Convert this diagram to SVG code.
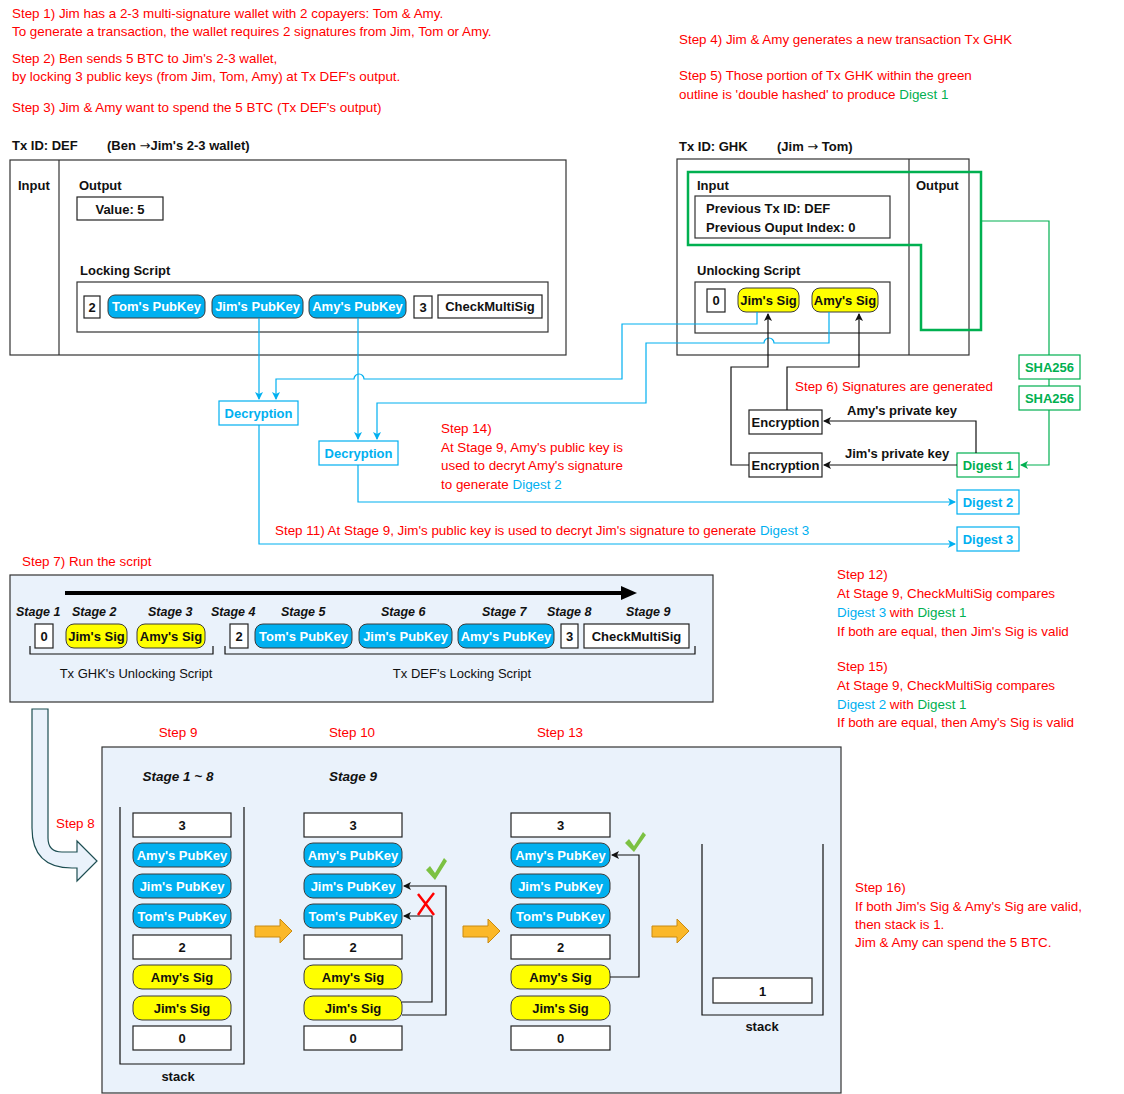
<svg xmlns="http://www.w3.org/2000/svg" width="1124" height="1094" viewBox="0 0 1124 1094">
<style>
text{font-family:"Liberation Sans",Arial,sans-serif;font-size:13px}
.r{fill:#FF0000;font-size:13.4px}
.b{fill:#00B0F0}
.g{fill:#00B050}
.k{fill:#111;font-weight:bold}
.bi{fill:#111;font-weight:bold;font-style:italic;font-size:12.5px}
.bi2{fill:#111;font-weight:bold;font-style:italic;font-size:13.5px}
.ar{font-family:"DejaVu Sans",sans-serif;font-weight:normal}
.box{fill:#fff;stroke:#222;stroke-width:1.2}
.frame{fill:none;stroke:#333;stroke-width:1.2}
.pb{fill:#00B0F0;stroke:#3a3a3a;stroke-width:1}
.py{fill:#FFFF00;stroke:#3a3a3a;stroke-width:1}
.pt{fill:#fff;font-weight:bold;text-anchor:middle}
.yt{fill:#111;font-weight:bold;text-anchor:middle}
.ct{fill:#111;font-weight:bold;text-anchor:middle}
.lt{fill:#111;text-anchor:middle}
.bbox{fill:#fff;stroke:#00B0F0;stroke-width:1.2}
.gbox{fill:#fff;stroke:#00B050;stroke-width:1.2}
.bl{fill:none;stroke:#00B0F0;stroke-width:1.2}
.gl{fill:none;stroke:#00B050;stroke-width:1.2}
.kl{fill:none;stroke:#111;stroke-width:1.2}
.panel{fill:#EAF2FB;stroke:#333;stroke-width:1.2}
.orange{fill:#FBB829;stroke:#C98A10;stroke-width:1}
.check{fill:#7CC142}
</style>
<defs>
<marker id="ak" markerWidth="8" markerHeight="8" refX="7" refY="4" orient="auto" markerUnits="userSpaceOnUse"><path d="M0,0 L8,4 L0,8 L2,4 Z" fill="#111"/></marker>
<marker id="ab" markerWidth="8" markerHeight="8" refX="7" refY="4" orient="auto" markerUnits="userSpaceOnUse"><path d="M0,0 L8,4 L0,8 L2,4 Z" fill="#00B0F0"/></marker>
<marker id="ag" markerWidth="8" markerHeight="8" refX="7" refY="4" orient="auto" markerUnits="userSpaceOnUse"><path d="M0,0 L8,4 L0,8 L2,4 Z" fill="#00B050"/></marker>
</defs>

<g id="notes">
<text class="r" x="12" y="18">Step 1) Jim has a 2-3 multi-signature wallet with 2 copayers: Tom &amp; Amy.</text>
<text class="r" x="12" y="36">To generate a transaction, the wallet requires 2 signatures from Jim, Tom or Amy.</text>
<text class="r" x="12" y="63">Step 2) Ben sends 5 BTC to Jim's 2-3 wallet,</text>
<text class="r" x="12" y="81">by locking 3 public keys (from Jim, Tom, Amy) at Tx DEF's output.</text>
<text class="r" x="12" y="112">Step 3) Jim &amp; Amy want to spend the 5 BTC (Tx DEF's output)</text>
<text class="r" x="679" y="44">Step 4) Jim &amp; Amy generates a new transaction Tx GHK</text>
<text class="r" x="679" y="80">Step 5) Those portion of Tx GHK within the green</text>
<text class="r" x="679" y="99">outline is 'double hashed' to produce <tspan class="g">Digest 1</tspan></text>
<text class="r" x="795" y="391">Step 6) Signatures are generated</text>
<text class="r" x="441" y="433">Step 14)</text>
<text class="r" x="441" y="452">At Stage 9, Amy's public key is</text>
<text class="r" x="441" y="470">used to decryt Amy's signature</text>
<text class="r" x="441" y="489">to generate <tspan class="b">Digest 2</tspan></text>
<text class="r" x="275" y="535">Step 11) At Stage 9, Jim's public key is used to decryt Jim's signature to generate <tspan class="b">Digest 3</tspan></text>
<text class="r" x="22" y="566">Step 7) Run the script</text>
<text class="r" x="837" y="579">Step 12)</text>
<text class="r" x="837" y="598">At Stage 9, CheckMultiSig compares</text>
<text class="r" x="837" y="617"><tspan class="b">Digest 3</tspan> with <tspan class="g">Digest 1</tspan></text>
<text class="r" x="837" y="636">If both are equal, then Jim's Sig is valid</text>
<text class="r" x="837" y="671">Step 15)</text>
<text class="r" x="837" y="690">At Stage 9, CheckMultiSig compares</text>
<text class="r" x="837" y="709"><tspan class="b">Digest 2</tspan> with <tspan class="g">Digest 1</tspan></text>
<text class="r" x="837" y="727">If both are equal, then Amy's Sig is valid</text>
<text class="r" x="56" y="828">Step 8</text>
<text class="r" x="178" y="737" text-anchor="middle">Step 9</text>
<text class="r" x="352" y="737" text-anchor="middle">Step 10</text>
<text class="r" x="560" y="737" text-anchor="middle">Step 13</text>
<text class="r" x="855" y="892">Step 16)</text>
<text class="r" x="855" y="911">If both Jim's Sig &amp; Amy's Sig are valid,</text>
<text class="r" x="855" y="929">then stack is 1.</text>
<text class="r" x="855" y="947">Jim &amp; Amy can spend the 5 BTC.</text>
</g>

<g id="txDEF">
<text class="k" x="12" y="150">Tx ID: DEF</text>
<text class="k" x="107" y="150">(Ben <tspan class="ar">→</tspan>Jim's 2-3 wallet)</text>
<rect class="frame" x="10" y="160" width="556" height="195"/>
<line class="frame" x1="59" y1="160" x2="59" y2="355"/>
<text class="k" x="18" y="190">Input</text>
<text class="k" x="79" y="190">Output</text>
<rect class="box" x="77" y="197" width="86" height="23"/>
<text class="ct" x="120" y="214">Value: 5</text>
<text class="k" x="80" y="275">Locking Script</text>
<rect class="frame" x="77" y="282" width="471" height="50"/>
<rect class="box" x="84" y="296" width="16" height="22"/>
<text class="ct" x="92" y="312">2</text>
<rect class="pb" x="108" y="295" width="97" height="23" rx="7"/>
<text class="pt" x="156.5" y="311">Tom's PubKey</text>
<rect class="pb" x="212" y="295" width="91" height="23" rx="7"/>
<text class="pt" x="257.5" y="311">Jim's PubKey</text>
<rect class="pb" x="309" y="295" width="97" height="23" rx="7"/>
<text class="pt" x="357.5" y="311">Amy's PubKey</text>
<rect class="box" x="414" y="296" width="18" height="22"/>
<text class="ct" x="423" y="312">3</text>
<rect class="box" x="438" y="295" width="104" height="23"/>
<text class="ct" x="490" y="311">CheckMultiSig</text>
</g>

<g id="txGHK">
<text class="k" x="679" y="151">Tx ID: GHK</text>
<text class="k" x="777" y="151">(Jim <tspan class="ar">→</tspan> Tom)</text>
<rect class="frame" x="677" y="159" width="292" height="196"/>
<line class="frame" x1="909" y1="159" x2="909" y2="355"/>
<text class="k" x="697" y="190">Input</text>
<text class="k" x="916" y="190">Output</text>
<rect class="frame" x="695" y="196" width="195" height="42"/>
<text class="k" x="706" y="213">Previous Tx ID: DEF</text>
<text class="k" x="706" y="232">Previous Ouput Index: 0</text>
<text class="k" x="697" y="275">Unlocking Script</text>
<rect class="frame" x="695" y="282" width="195" height="51"/>
<rect class="box" x="707" y="289" width="18" height="23"/>
<text class="ct" x="716" y="305">0</text>
<rect class="py" x="738" y="288" width="61" height="24" rx="8"/>
<text class="yt" x="768.5" y="305">Jim's Sig</text>
<rect class="py" x="812" y="288" width="66" height="24" rx="8"/>
<text class="yt" x="845" y="305">Amy's Sig</text>
<path d="M688,172 H981 V330 H921 V245 H688 Z" fill="none" stroke="#00B050" stroke-width="2.5"/>
</g>

<g id="crypto">
<rect class="bbox" x="219" y="401" width="79" height="24"/>
<text class="b" x="258.5" y="418" text-anchor="middle" font-weight="bold">Decryption</text>
<rect class="bbox" x="319" y="441" width="79" height="24"/>
<text class="b" x="358.5" y="458" text-anchor="middle" font-weight="bold">Decryption</text>
<rect class="box" x="749" y="410" width="73" height="24"/>
<text class="ct" x="785.5" y="427">Encryption</text>
<rect class="box" x="749" y="453" width="73" height="24"/>
<text class="ct" x="785.5" y="470">Encryption</text>
<text class="k" x="847" y="415">Amy's private key</text>
<text class="k" x="845" y="458">Jim's private key</text>
<rect class="gbox" x="1019" y="355" width="61" height="24"/>
<text class="g" x="1049.5" y="372" text-anchor="middle" font-weight="bold">SHA256</text>
<rect class="gbox" x="1019" y="386" width="61" height="24"/>
<text class="g" x="1049.5" y="403" text-anchor="middle" font-weight="bold">SHA256</text>
<rect class="gbox" x="957" y="453" width="62" height="24"/>
<text class="g" x="988" y="470" text-anchor="middle" font-weight="bold">Digest 1</text>
<rect class="bbox" x="957" y="490" width="62" height="24"/>
<text class="b" x="988" y="507" text-anchor="middle" font-weight="bold">Digest 2</text>
<rect class="bbox" x="957" y="527" width="62" height="24"/>
<text class="b" x="988" y="544" text-anchor="middle" font-weight="bold">Digest 3</text>
</g>

<g id="connectors">
<path class="bl" d="M259,318 V399" marker-end="url(#ab)"/>
<path class="bl" d="M358,318 V439" marker-end="url(#ab)"/>
<path class="bl" d="M757,312 V324 H622 V379 H364 A5,5 0 0 0 354,379 H276 V399" marker-end="url(#ab)"/>
<path class="bl" d="M829,312 V343 H774 A5,5 0 0 0 764,343 H646 V403 H377 V439" marker-end="url(#ab)"/>
<path class="bl" d="M259,425 V544 H955" marker-end="url(#ab)"/>
<path class="bl" d="M358,465 V502 H955" marker-end="url(#ab)"/>
<path class="gl" d="M981,221 H1049 V355"/>
<path class="gl" d="M1049,379 V386"/>
<path class="gl" d="M1049,410 V465 H1021" marker-end="url(#ag)"/>
<path class="kl" d="M976,453 V421 H824" marker-end="url(#ak)"/>
<path class="kl" d="M957,465 H824" marker-end="url(#ak)"/>
<path class="kl" d="M749,465 H731 V367 H768 V314" marker-end="url(#ak)"/>
<path class="kl" d="M787,410 V367 H859 V314" marker-end="url(#ak)"/>
</g>

<g id="stages">
<rect class="panel" x="10" y="575" width="703" height="127"/>
<line x1="65" y1="593" x2="623" y2="593" stroke="#000" stroke-width="4"/>
<path d="M621,586 L637,593 L621,600 Z" fill="#000"/>
<text class="bi" x="16" y="616">Stage 1</text>
<text class="bi" x="72" y="616">Stage 2</text>
<text class="bi" x="148" y="616">Stage 3</text>
<text class="bi" x="211" y="616">Stage 4</text>
<text class="bi" x="281" y="616">Stage 5</text>
<text class="bi" x="381" y="616">Stage 6</text>
<text class="bi" x="482" y="616">Stage 7</text>
<text class="bi" x="547" y="616">Stage 8</text>
<text class="bi" x="626" y="616">Stage 9</text>
<rect class="box" x="35" y="624" width="18" height="24"/>
<text class="ct" x="44" y="641">0</text>
<rect class="py" x="66" y="624" width="61" height="24" rx="8"/>
<text class="yt" x="96.5" y="641">Jim's Sig</text>
<rect class="py" x="137" y="624" width="68" height="24" rx="8"/>
<text class="yt" x="171" y="641">Amy's Sig</text>
<rect class="box" x="230" y="624" width="18" height="24"/>
<text class="ct" x="239" y="641">2</text>
<rect class="pb" x="255" y="624" width="97" height="24" rx="8"/>
<text class="pt" x="303.5" y="641">Tom's PubKey</text>
<rect class="pb" x="359" y="624" width="93" height="24" rx="8"/>
<text class="pt" x="405.5" y="641">Jim's PubKey</text>
<rect class="pb" x="458" y="624" width="96" height="24" rx="8"/>
<text class="pt" x="506" y="641">Amy's PubKey</text>
<rect class="box" x="561" y="624" width="17" height="24"/>
<text class="ct" x="569.5" y="641">3</text>
<rect class="box" x="584" y="624" width="105" height="24"/>
<text class="ct" x="636.5" y="641">CheckMultiSig</text>
<path class="kl" d="M30,646 V654 H213 V646"/>
<path class="kl" d="M225,646 V654 H695 V646"/>
<text class="lt" x="136" y="678">Tx GHK's Unlocking Script</text>
<text class="lt" x="462" y="678">Tx DEF's Locking Script</text>
</g>

<g id="step8-arrow">
<path d="M32,709 H48 V838 Q48,852 62,852 H77 V841 L97,861 L77,881 V868 H72 Q32,868 32,828 Z" fill="#EAF2FB" stroke="#1D4E52" stroke-width="1.2"/>
</g>

<g id="execution">
<rect class="panel" x="102" y="747" width="739" height="346"/>
<text class="bi2" x="178" y="781" text-anchor="middle">Stage 1 ~ 8</text>
<text class="bi2" x="353" y="781" text-anchor="middle">Stage 9</text>
</g>

<g id="stack1">
<path class="kl" d="M120,807 V1064 H244 V807"/>
<rect class="box" x="133" y="813" width="98" height="24"/><text class="ct" x="182" y="830">3</text>
<rect class="pb" x="133" y="843" width="98" height="24" rx="9"/><text class="pt" x="182" y="860">Amy's PubKey</text>
<rect class="pb" x="133" y="874" width="98" height="24" rx="9"/><text class="pt" x="182" y="891">Jim's PubKey</text>
<rect class="pb" x="133" y="904" width="98" height="24" rx="9"/><text class="pt" x="182" y="921">Tom's PubKey</text>
<rect class="box" x="133" y="935" width="98" height="24"/><text class="ct" x="182" y="952">2</text>
<rect class="py" x="133" y="965" width="98" height="24" rx="9"/><text class="yt" x="182" y="982">Amy's Sig</text>
<rect class="py" x="133" y="996" width="98" height="24" rx="9"/><text class="yt" x="182" y="1013">Jim's Sig</text>
<rect class="box" x="133" y="1026" width="98" height="24"/><text class="ct" x="182" y="1043">0</text>
<text class="ct" x="178" y="1081">stack</text>
</g>

<g id="stack2">
<rect class="box" x="304" y="813" width="98" height="24"/><text class="ct" x="353" y="830">3</text>
<rect class="pb" x="304" y="843" width="98" height="24" rx="9"/><text class="pt" x="353" y="860">Amy's PubKey</text>
<rect class="pb" x="304" y="874" width="98" height="24" rx="9"/><text class="pt" x="353" y="891">Jim's PubKey</text>
<rect class="pb" x="304" y="904" width="98" height="24" rx="9"/><text class="pt" x="353" y="921">Tom's PubKey</text>
<rect class="box" x="304" y="935" width="98" height="24"/><text class="ct" x="353" y="952">2</text>
<rect class="py" x="304" y="965" width="98" height="24" rx="9"/><text class="yt" x="353" y="982">Amy's Sig</text>
<rect class="py" x="304" y="996" width="98" height="24" rx="9"/><text class="yt" x="353" y="1013">Jim's Sig</text>
<rect class="box" x="304" y="1026" width="98" height="24"/><text class="ct" x="353" y="1043">0</text>
<path class="kl" d="M402,1002 H432 V916 H404" marker-end="url(#ak)"/>
<path class="kl" d="M402,1015 H446 V886 H404" marker-end="url(#ak)"/>
<path class="check" d="M426,870 L430,866 L435,873 L444,858 L447,861 L435,880 Z"/>
<path d="M418,894 Q426,904 434,915 M434,893 Q425,904 418,915" fill="none" stroke="#FF0000" stroke-width="2.5"/>
</g>

<g id="stack3">
<rect class="box" x="511" y="813" width="99" height="24"/><text class="ct" x="560.5" y="830">3</text>
<rect class="pb" x="511" y="843" width="99" height="24" rx="9"/><text class="pt" x="560.5" y="860">Amy's PubKey</text>
<rect class="pb" x="511" y="874" width="99" height="24" rx="9"/><text class="pt" x="560.5" y="891">Jim's PubKey</text>
<rect class="pb" x="511" y="904" width="99" height="24" rx="9"/><text class="pt" x="560.5" y="921">Tom's PubKey</text>
<rect class="box" x="511" y="935" width="99" height="24"/><text class="ct" x="560.5" y="952">2</text>
<rect class="py" x="511" y="965" width="99" height="24" rx="9"/><text class="yt" x="560.5" y="982">Amy's Sig</text>
<rect class="py" x="511" y="996" width="99" height="24" rx="9"/><text class="yt" x="560.5" y="1013">Jim's Sig</text>
<rect class="box" x="511" y="1026" width="99" height="24"/><text class="ct" x="560.5" y="1043">0</text>
<path class="kl" d="M610,977 H639 V855 H612" marker-end="url(#ak)"/>
<path class="check" d="M625,843 L629,839 L634,846 L643,832 L646,835 L634,852 Z"/>
</g>

<g id="stack4">
<path class="kl" d="M702,844 V1015 H823 V844"/>
<rect class="box" x="713" y="978" width="99" height="25"/><text class="ct" x="762.5" y="996">1</text>
<text class="ct" x="762" y="1031">stack</text>
</g>

<g id="flow-arrows">
<path class="orange" d="M255,926 H280 V919 L292,931 L280,943 V937 H255 Z"/>
<path class="orange" d="M463,926 H488 V919 L500,931 L488,943 V937 H463 Z"/>
<path class="orange" d="M652,926 H677 V919 L689,931 L677,943 V937 H652 Z"/>
</g>
</svg>
